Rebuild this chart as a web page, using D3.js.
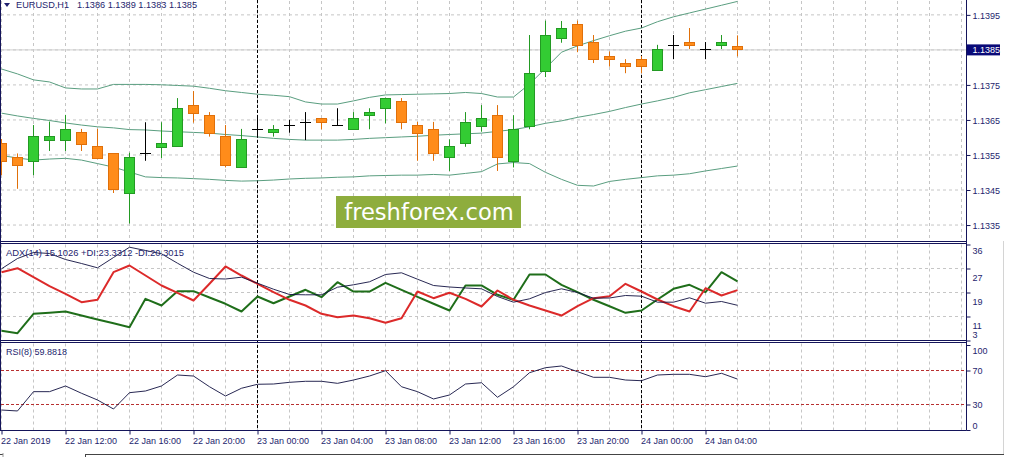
<!DOCTYPE html>
<html><head><meta charset="utf-8">
<script src="https://cdn.jsdelivr.net/npm/d3@7"></script>
<style>
html,body{margin:0;padding:0;background:#fff;overflow:hidden}
svg{display:block}
text{font-family:"Liberation Sans",Arial,sans-serif;font-size:9px;fill:#1e1e6e}
</style></head><body>
<svg id="c" width="1009" height="457"></svg>
<script>
// ---------- DATA ----------
const symbolLabel = "EURUSD,H1";
const headerOHLC = "1.1386 1.1389 1.1383 1.1385";
const adxLabel = "ADX(14) 15.1026 +DI:23.3312 -DI:20.3015";
const rsiLabel = "RSI(8) 59.8818";
const watermark = "freshforex.com";
const firstBar = Date.UTC(2019, 0, 22, 8);   // 22 Jan 2019 08:00
const barCount = 47;
const currentPrice = 1.1385;

const open  = [1.13583,1.13542,1.13532,1.13592,1.13592,1.13614,1.13574,1.13554,1.13441,1.13554,1.13572,1.13573,1.13691,1.13663,1.13604,1.13513,1.13622,1.13613,1.13635,1.13642,1.13653,1.13635,1.13622,1.13662,1.13682,1.13703,1.13633,1.13622,1.13542,1.13582,1.13632,1.13662,1.13532,1.13632,1.13789,1.13882,1.13922,1.13871,1.13831,1.13811,1.13822,1.13791,1.13863,1.13871,1.13851,1.13862,1.13860];
const high  = [1.13594,1.13553,1.13634,1.13644,1.13663,1.13623,1.13623,1.13554,1.13555,1.13642,1.13642,1.13711,1.13731,1.13671,1.13634,1.13623,1.13663,1.13634,1.13649,1.13671,1.13654,1.13682,1.13671,1.13682,1.13712,1.13711,1.13643,1.13643,1.13593,1.13671,1.13691,1.13691,1.13662,1.13891,1.13932,1.13931,1.13932,1.13891,1.13844,1.13822,1.13831,1.13863,1.13891,1.13911,1.13871,1.13891,1.13890];
const low   = [1.13491,1.13452,1.13491,1.13560,1.13560,1.13560,1.13540,1.13440,1.13353,1.13532,1.13540,1.13572,1.13641,1.13601,1.13513,1.13512,1.13598,1.13601,1.13612,1.13591,1.13622,1.13634,1.13621,1.13622,1.13639,1.13622,1.13532,1.13532,1.13503,1.13572,1.13615,1.13503,1.13513,1.13622,1.13771,1.13869,1.13842,1.13811,1.13801,1.13782,1.13782,1.13790,1.13822,1.13851,1.13822,1.13851,1.13830];
const close = [1.13532,1.13521,1.13603,1.13603,1.13623,1.13581,1.13541,1.13452,1.13542,1.13554,1.13583,1.13682,1.13669,1.13612,1.13521,1.13594,1.13622,1.13622,1.13635,1.13642,1.13642,1.13635,1.13653,1.13671,1.13711,1.13642,1.13612,1.13553,1.13573,1.13642,1.13653,1.13542,1.13622,1.13783,1.13891,1.13911,1.13862,1.13822,1.13822,1.13802,1.13802,1.13851,1.13863,1.13862,1.13851,1.13871,1.13850];

const bbUpper  = [1.13794,1.13780,1.13763,1.13757,1.13740,1.13737,1.13737,1.13750,1.13750,1.13750,1.13749,1.13747,1.13745,1.13739,1.13732,1.13727,1.13722,1.13719,1.13715,1.13700,1.13694,1.13694,1.13703,1.13713,1.13720,1.13721,1.13722,1.13723,1.13724,1.13727,1.13724,1.13714,1.13714,1.13751,1.13796,1.13842,1.13860,1.13875,1.13889,1.13902,1.13911,1.13929,1.13943,1.13954,1.13965,1.13976,1.13987];
const bbMiddle = [1.13668,1.13660,1.13653,1.13647,1.13640,1.13634,1.13629,1.13626,1.13621,1.13620,1.13617,1.13615,1.13613,1.13611,1.13607,1.13604,1.13600,1.13596,1.13593,1.13591,1.13591,1.13591,1.13593,1.13596,1.13598,1.13600,1.13602,1.13605,1.13607,1.13609,1.13611,1.13616,1.13621,1.13629,1.13639,1.13646,1.13656,1.13664,1.13673,1.13684,1.13694,1.13703,1.13713,1.13726,1.13735,1.13744,1.13753];
const bbLower  = [1.13547,1.13540,1.13534,1.13537,1.13539,1.13534,1.13524,1.13514,1.13500,1.13486,1.13484,1.13483,1.13481,1.13479,1.13476,1.13474,1.13475,1.13477,1.13480,1.13482,1.13483,1.13485,1.13486,1.13489,1.13490,1.13491,1.13491,1.13493,1.13491,1.13496,1.13501,1.13523,1.13527,1.13524,1.13499,1.13479,1.13462,1.13460,1.13473,1.13479,1.13484,1.13489,1.13491,1.13495,1.13503,1.13510,1.13517];

const adx     = [27.65,31.19,33.25,32.91,30.84,29.47,27.99,31.53,35.07,33.94,32.80,29.57,26.48,24.31,24.14,24.76,22.70,20.63,18.81,18.71,18.71,21.32,22.15,23.18,25.69,26.27,24.07,21.91,21.39,21.05,20.77,18.12,16.17,17.33,19.50,20.77,19.50,17.54,17.61,18.47,18.23,16.17,16.17,17.68,15.82,16.41,15.10];
const plusDI  = [6.33,5.51,12.18,12.52,12.97,11.59,10.22,8.95,7.57,17.33,15.03,19.95,19.95,17.78,15.62,12.97,18.12,15.82,18.12,20.43,17.88,23.04,19.84,19.84,22.83,20.43,18.02,15.62,13.31,21.91,21.91,18.71,16.99,25.69,25.69,22.15,19.60,16.99,14.79,12.52,13.31,17.09,20.77,22.15,19.60,26.48,23.33];
const minusDI = [26.48,27.85,24.76,21.67,19.05,16.17,16.99,26.48,28.78,25.34,21.91,19.40,16.75,22.49,28.44,25.34,22.49,19.60,16.99,15.03,12.18,11.01,11.59,10.67,9.08,10.67,19.84,17.54,19.40,17.33,14.69,20.19,16.99,15.03,13.31,11.59,14.79,17.54,18.23,22.49,19.84,17.09,14.79,12.97,20.98,18.47,20.30];
const rsi     = [23.5,22.4,45.1,45.1,51.8,43.2,35.3,24.7,43.9,45.9,51.8,64.7,63.5,50.9,40.0,49.1,53.8,54.1,56.1,57.3,57.3,54.9,58.8,63.5,69.8,50.9,45.1,36.5,41.2,54.1,55.6,38.5,50.9,67.4,73.3,75.3,68.6,62.0,62.0,58.8,58.0,64.7,65.5,65.5,62.7,66.7,59.88];

const priceTicks = [1.1395,1.1385,1.1375,1.1365,1.1355,1.1345,1.1335];
const adxTicks   = [36,27.75,19.5,11.25,3];
const rsiTicks   = [100,70,30,0];
const rsiLevels  = [70,30];

// ---------- LAYOUT ----------
const svg = d3.select("#c");
const axisX = 966.5;
const panels = {
  main: {top: 0, bottom: 241.5},
  adx:  {top: 243.5, bottom: 340.5},
  rsi:  {top: 342.5, bottom: 430.5}
};
const cNavy = "#14145a", cGrid = "#c6c6c6", cText = "#1e1e6e";

const times = d3.range(barCount).map(i => new Date(firstBar + i * 3600e3));
const endTime = new Date(firstBar + 60 * 3600e3);
const x = d3.scaleUtc().domain([times[0], endTime]).range([1, 961]);
const yP = d3.scaleLinear().domain([1.13303, 1.13991]).range([241, 0]);
const yA = d3.scaleLinear().domain([3, 36]).range([340.5, 244.5]);
const yR = d3.scaleLinear().domain([0, 100]).range([430, 345]);

// ---------- GRID ----------
const grid = svg.append("g");
const vLines = d3.utcHour.every(2).range(times[0], new Date(+endTime + 1));
Object.values(panels).forEach(p => {
  grid.selectAll(null).data(vLines).join("line")
    .attr("x1", d => Math.round(x(d)) + 0.5).attr("x2", d => Math.round(x(d)) + 0.5)
    .attr("y1", p.top + 1).attr("y2", p.bottom)
    .attr("stroke", cGrid).attr("stroke-dasharray", "3,3");
});
grid.selectAll(null).data(priceTicks).join("line")
  .attr("x1", 1).attr("x2", axisX).attr("y1", d => yP(d) + 0.5).attr("y2", d => yP(d) + 0.5)
  .attr("stroke", cGrid).attr("stroke-dasharray", "3,3");
grid.selectAll(null).data(adxTicks.slice(1, -1)).join("line")
  .attr("x1", 1).attr("x2", axisX).attr("y1", d => yA(d)).attr("y2", d => yA(d))
  .attr("stroke", cGrid).attr("stroke-dasharray", "3,3");
// current price line
grid.append("line").attr("x1", 1).attr("x2", axisX)
  .attr("y1", yP(currentPrice) + 0.5).attr("y2", yP(currentPrice) + 0.5)
  .attr("stroke", "#cfcfcf");
// RSI levels
grid.selectAll(null).data(rsiLevels).join("line")
  .attr("x1", 1).attr("x2", axisX).attr("y1", d => yR(d)).attr("y2", d => yR(d))
  .attr("stroke", "#b83030").attr("stroke-dasharray", "3,2");
// day separators
const days = d3.utcDay.range(new Date(+times[0] + 1), endTime);
grid.selectAll(null).data(days).join("line")
  .attr("x1", d => Math.round(x(d)) + 0.5).attr("x2", d => Math.round(x(d)) + 0.5)
  .attr("y1", 0).attr("y2", panels.rsi.bottom)
  .attr("stroke", "#000").attr("stroke-dasharray", "3,2");

// ---------- WATERMARK ----------
svg.append("rect").attr("x", 336).attr("y", 196).attr("width", 185).attr("height", 32).attr("fill", "#8ead3d");
svg.append("text").attr("x", 429).attr("y", 219.5).attr("text-anchor", "middle")
  .style("font-family", "'DejaVu Sans',Verdana,sans-serif").style("font-size", "22.6px").style("fill", "#fff")
  .text(watermark);

// ---------- BOLLINGER ----------
const bandLine = d3.line().x((d, i) => x(times[i]) + 0.5).y(d => yP(d));
[bbUpper, bbMiddle, bbLower].forEach(arr => {
  svg.append("path").attr("d", bandLine(arr)).attr("fill", "none")
    .attr("stroke", "#5a9e80").attr("stroke-width", 1);
});

// ---------- CANDLES ----------
const bars = d3.range(barCount).map(i => ({t: times[i], o: open[i], h: high[i], l: low[i], c: close[i]}));
const cg = svg.append("g");
bars.forEach(b => {
  const cx = Math.round(x(b.t));
  const doji = b.o === b.c;
  const up = b.c > b.o;
  const stroke = doji ? "#000" : (up ? "#239a23" : "#e0700a");
  const fill = up ? "#33cc33" : "#ff8c1a";
  cg.append("line").attr("x1", cx + 0.5).attr("x2", cx + 0.5)
    .attr("y1", yP(b.h)).attr("y2", yP(b.l)).attr("stroke", stroke);
  if (doji) {
    const yy = Math.round(yP(b.o)) + 0.5;
    cg.append("line").attr("x1", cx - 5).attr("x2", cx + 6).attr("y1", yy).attr("y2", yy).attr("stroke", "#000");
  } else {
    const y1 = Math.round(yP(Math.max(b.o, b.c))) + 0.5;
    const y2 = Math.round(yP(Math.min(b.o, b.c))) + 0.5;
    cg.append("rect").attr("x", cx - 4.5).attr("y", y1).attr("width", 10).attr("height", Math.max(1, y2 - y1))
      .attr("fill", fill).attr("stroke", stroke);
  }
});

// ---------- ADX ----------
const aLine = d3.line().x((d, i) => x(times[i]) + 0.5).y(d => yA(d));
svg.append("path").attr("d", aLine(plusDI)).attr("fill", "none").attr("stroke", "#1f6e1a").attr("stroke-width", 2).attr("stroke-linejoin", "round");
svg.append("path").attr("d", aLine(minusDI)).attr("fill", "none").attr("stroke", "#dc2a2a").attr("stroke-width", 2).attr("stroke-linejoin", "round");
svg.append("path").attr("d", aLine(adx)).attr("fill", "none").attr("stroke", "#101040").attr("stroke-width", 0.9);

// ---------- RSI ----------
const rLine = d3.line().x((d, i) => x(times[i]) + 0.5).y(d => yR(d));
svg.append("path").attr("d", rLine(rsi)).attr("fill", "none").attr("stroke", "#101040").attr("stroke-width", 0.9);

// ---------- FRAMES ----------
const fr = svg.append("g").attr("stroke", cNavy).attr("fill", "none");
fr.append("line").attr("x1", 0.5).attr("x2", 0.5).attr("y1", 0).attr("y2", panels.rsi.bottom);
fr.append("line").attr("x1", axisX).attr("x2", axisX).attr("y1", 0).attr("y2", panels.rsi.bottom);
[panels.main.bottom, panels.adx.top, panels.adx.bottom, panels.rsi.top, panels.rsi.bottom].forEach(yy => {
  fr.append("line").attr("x1", 0).attr("x2", axisX).attr("y1", yy).attr("y2", yy);
});

// ---------- AXES ----------
const fmtP = d3.format(".4f");
const pAxis = svg.append("g").attr("transform", `translate(${axisX},0.5)`)
  .call(d3.axisRight(yP).tickValues(priceTicks).tickSize(4).tickSizeOuter(0).tickPadding(2).tickFormat(fmtP));
pAxis.select(".domain").remove();
pAxis.selectAll("line").attr("stroke", cNavy);
pAxis.selectAll("text").attr("fill", cText).style("font-size", "9px").style("font-family", "'Liberation Sans',Arial,sans-serif")
  .attr("dy", "0.36em");
// current price box
svg.append("rect").attr("x", 967).attr("y", yP(currentPrice) - 5).attr("width", 33).attr("height", 11).attr("fill", "#0a0a78");
svg.append("text").attr("x", 972.5).attr("y", yP(currentPrice) + 3.8).style("fill", "#fff").text(fmtP(currentPrice));

// ADX axis
const aAxis = svg.append("g").attr("transform", `translate(${axisX},0)`)
  .call(d3.axisRight(yA).tickValues(adxTicks).tickSize(4).tickSizeOuter(0).tickPadding(2).tickFormat(d => Math.floor(d)));
aAxis.select(".domain").remove();
aAxis.selectAll("line").attr("stroke", cNavy);
aAxis.selectAll("text").attr("fill", cText).style("font-size", "9px").style("font-family", "'Liberation Sans',Arial,sans-serif")
  .attr("dy", null).attr("y", (d, i, n) => i === n.length - 1 ? -3.5 : (i === 0 ? 9 : 11.5));

// RSI axis
const rAxis = svg.append("g").attr("transform", `translate(${axisX},0)`)
  .call(d3.axisRight(yR).tickValues(rsiTicks).tickSize(4).tickSizeOuter(0).tickPadding(2));
rAxis.select(".domain").remove();
rAxis.selectAll("line").attr("stroke", cNavy);
rAxis.selectAll("text").attr("fill", cText).style("font-size", "9px").style("font-family", "'Liberation Sans',Arial,sans-serif")
  .attr("dy", null).attr("y", d => d === 100 ? 8.4 : (d === 0 ? -1.6 : 3.4));

// Time axis
const labelTimes = d3.utcHour.every(4).range(times[0], new Date(+times[barCount - 1] + 1));
const fmtFirst = d3.utcFormat("%-d %b %Y"), fmtT = d3.utcFormat("%-d %b %H:%M");
const tAxis = svg.append("g").attr("transform", `translate(0.5,${panels.rsi.bottom})`)
  .call(d3.axisBottom(x).tickValues(labelTimes).tickSize(4).tickSizeOuter(0).tickPadding(3)
    .tickFormat((d, i) => i === 0 ? fmtFirst(d) : fmtT(d)));
tAxis.select(".domain").remove();
tAxis.selectAll("line").attr("stroke", cNavy);
tAxis.selectAll("text").attr("fill", "#222244").attr("text-anchor", "start").attr("x", -1)
  .style("font-size", "9px").style("font-family", "'Liberation Sans',Arial,sans-serif");

// ---------- HEADERS ----------
svg.append("path").attr("d", "M4,3 L10,3 L7,7 Z").attr("fill", cText);
svg.append("text").attr("x", 16).attr("y", 7.8).style("font-size", "9.2px").text(symbolLabel);
svg.append("text").attr("x", 77).attr("y", 7.8).style("font-size", "9.2px").text(headerOHLC);
svg.append("text").attr("x", 6).attr("y", 255.5).style("font-size", "9.4px").text(adxLabel);
svg.append("text").attr("x", 6).attr("y", 355.3).text(rsiLabel);

// ---------- WINDOW CHROME ----------
svg.append("line").attr("x1", 1003.5).attr("x2", 1003.5).attr("y1", 241).attr("y2", 454).attr("stroke", "#d4d4d4");
svg.append("line").attr("x1", 0).attr("x2", 3).attr("y1", 454.5).attr("y2", 454.5).attr("stroke", "#444");
svg.append("line").attr("x1", 85).attr("x2", 1004).attr("y1", 454.5).attr("y2", 454.5).attr("stroke", "#444");
svg.append("line").attr("x1", 85.5).attr("x2", 85.5).attr("y1", 454).attr("y2", 457).attr("stroke", "#444");
svg.append("line").attr("x1", 3).attr("x2", 3).attr("y1", 453).attr("y2", 457).attr("stroke", "#999");
</script>
</body></html>
